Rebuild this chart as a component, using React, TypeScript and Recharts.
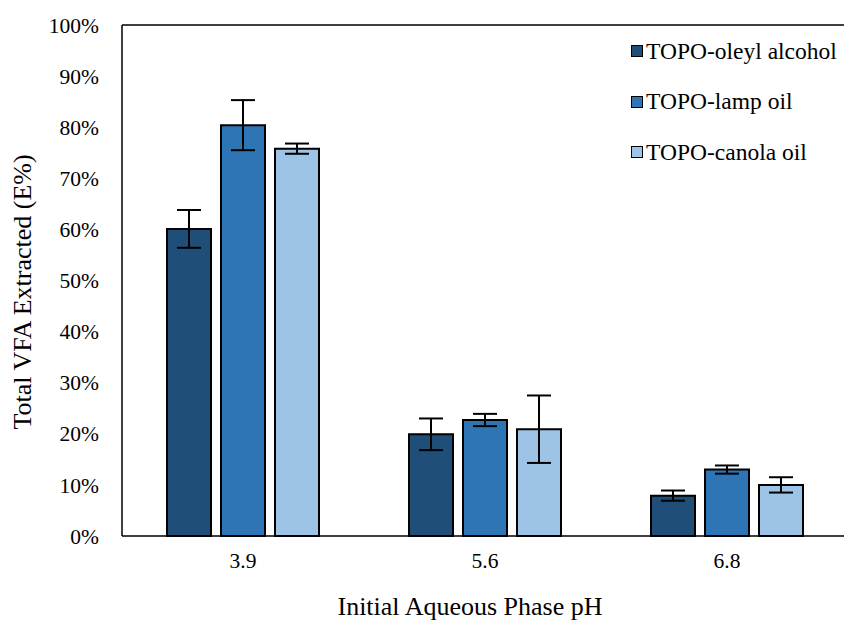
import {
  BarChart,
  Bar,
  XAxis,
  YAxis,
  ErrorBar,
  Legend,
  ReferenceLine,
} from "recharts";

const phLabels = ["3.9", "5.6", "6.8"];
const oleylAlcohol = [60.1, 19.9, 7.9];
const lampOil = [80.4, 22.7, 13.0];
const canolaOil = [75.8, 20.9, 10.0];
const oleylErr = [3.7, 3.1, 1.0];
const lampErr = [4.9, 1.2, 0.8];
const canolaErr = [1.0, 6.6, 1.5];
const yTicks = [0, 10, 20, 30, 40, 50, 60, 70, 80, 90, 100];

const seriesNames = ["TOPO-oleyl alcohol", "TOPO-lamp oil", "TOPO-canola oil"];
const colors = ["#1F4E79", "#2E75B6", "#9DC3E6"];

const data = phLabels.map((ph, i) => ({
  ph,
  oleyl: oleylAlcohol[i],
  lamp: lampOil[i],
  canola: canolaOil[i],
  oleylErr: oleylErr[i],
  lampErr: lampErr[i],
  canolaErr: canolaErr[i],
}));

const font = "Liberation Serif";

const LegendBox = () => (
  <div style={{ fontFamily: font, fontSize: 23.5, color: "#000", lineHeight: 1 }}>
    {seriesNames.map((name, i) => (
      <div key={name} style={{ display: "flex", alignItems: "center", height: 50.5 }}>
        <span
          style={{
            width: 10,
            height: 10,
            background: colors[i],
            border: "1.5px solid #000",
            marginRight: 3,
            display: "inline-block",
            flexShrink: 0,
          }}
        />
        <span style={{ whiteSpace: "nowrap", fontFamily: font }}>{name}</span>
      </div>
    ))}
  </div>
);

export default function App() {
  return (
    <div
      style={{
        position: "absolute",
        left: 0,
        top: 0,
        width: 844,
        height: 621,
        overflow: "hidden",
        background: "#fff",
        fontFamily: font,
      }}
    >
      <BarChart
        width={870}
        height={621}
        data={data}
        margin={{ top: 25, right: 22, left: 0, bottom: 0 }}
        barSize={44}
        barGap={10}
        barCategoryGap={45}
        style={{ fontFamily: font }}
      >
        <XAxis
          dataKey="ph"
          height={85}
          tickLine={false}
          tickSize={0}
          tickMargin={17}
          axisLine={{ stroke: "#000", strokeWidth: 1.5 }}
          tick={{ fill: "#000", fontFamily: font, fontSize: 21.5 }}
          label={{
            content: () => (
              <text
                x={470}
                y={606}
                textAnchor="middle"
                dominantBaseline="central"
                fontFamily={font}
                fontSize={26}
                fill="#000"
              >
                Initial Aqueous Phase pH
              </text>
            ),
          }}
        />
        <YAxis
          width={122}
          domain={[0, 100]}
          ticks={yTicks}
          interval={0}
          tickLine={false}
          tickSize={0}
          tickMargin={23}
          tickFormatter={(v) => `${v}%`}
          axisLine={{ stroke: "#000", strokeWidth: 1.5 }}
          tick={{ fill: "#000", fontFamily: font, fontSize: 21.5 }}
          label={{
            content: () => (
              <text
                x={22}
                y={292}
                transform="rotate(-90 22 292)"
                textAnchor="middle"
                dominantBaseline="central"
                fontFamily={font}
                fontSize={26}
                fill="#000"
              >
                Total VFA Extracted (E%)
              </text>
            ),
          }}
        />
        <ReferenceLine y={100} stroke="#000" strokeWidth={1.5} />
        <Legend
          layout="vertical"
          verticalAlign="middle"
          align="center"
          content={<LegendBox />}
          wrapperStyle={{ left: 631, top: 26, width: 260 }}
        />
        <Bar dataKey="oleyl" name={seriesNames[0]} fill={colors[0]} stroke="#000" strokeWidth={2} isAnimationActive={false}>
          <ErrorBar dataKey="oleylErr" width={12} stroke="#000" strokeWidth={2} />
        </Bar>
        <Bar dataKey="lamp" name={seriesNames[1]} fill={colors[1]} stroke="#000" strokeWidth={2} isAnimationActive={false}>
          <ErrorBar dataKey="lampErr" width={12} stroke="#000" strokeWidth={2} />
        </Bar>
        <Bar dataKey="canola" name={seriesNames[2]} fill={colors[2]} stroke="#000" strokeWidth={2} isAnimationActive={false}>
          <ErrorBar dataKey="canolaErr" width={12} stroke="#000" strokeWidth={2} />
        </Bar>
      </BarChart>
    </div>
  );
}
